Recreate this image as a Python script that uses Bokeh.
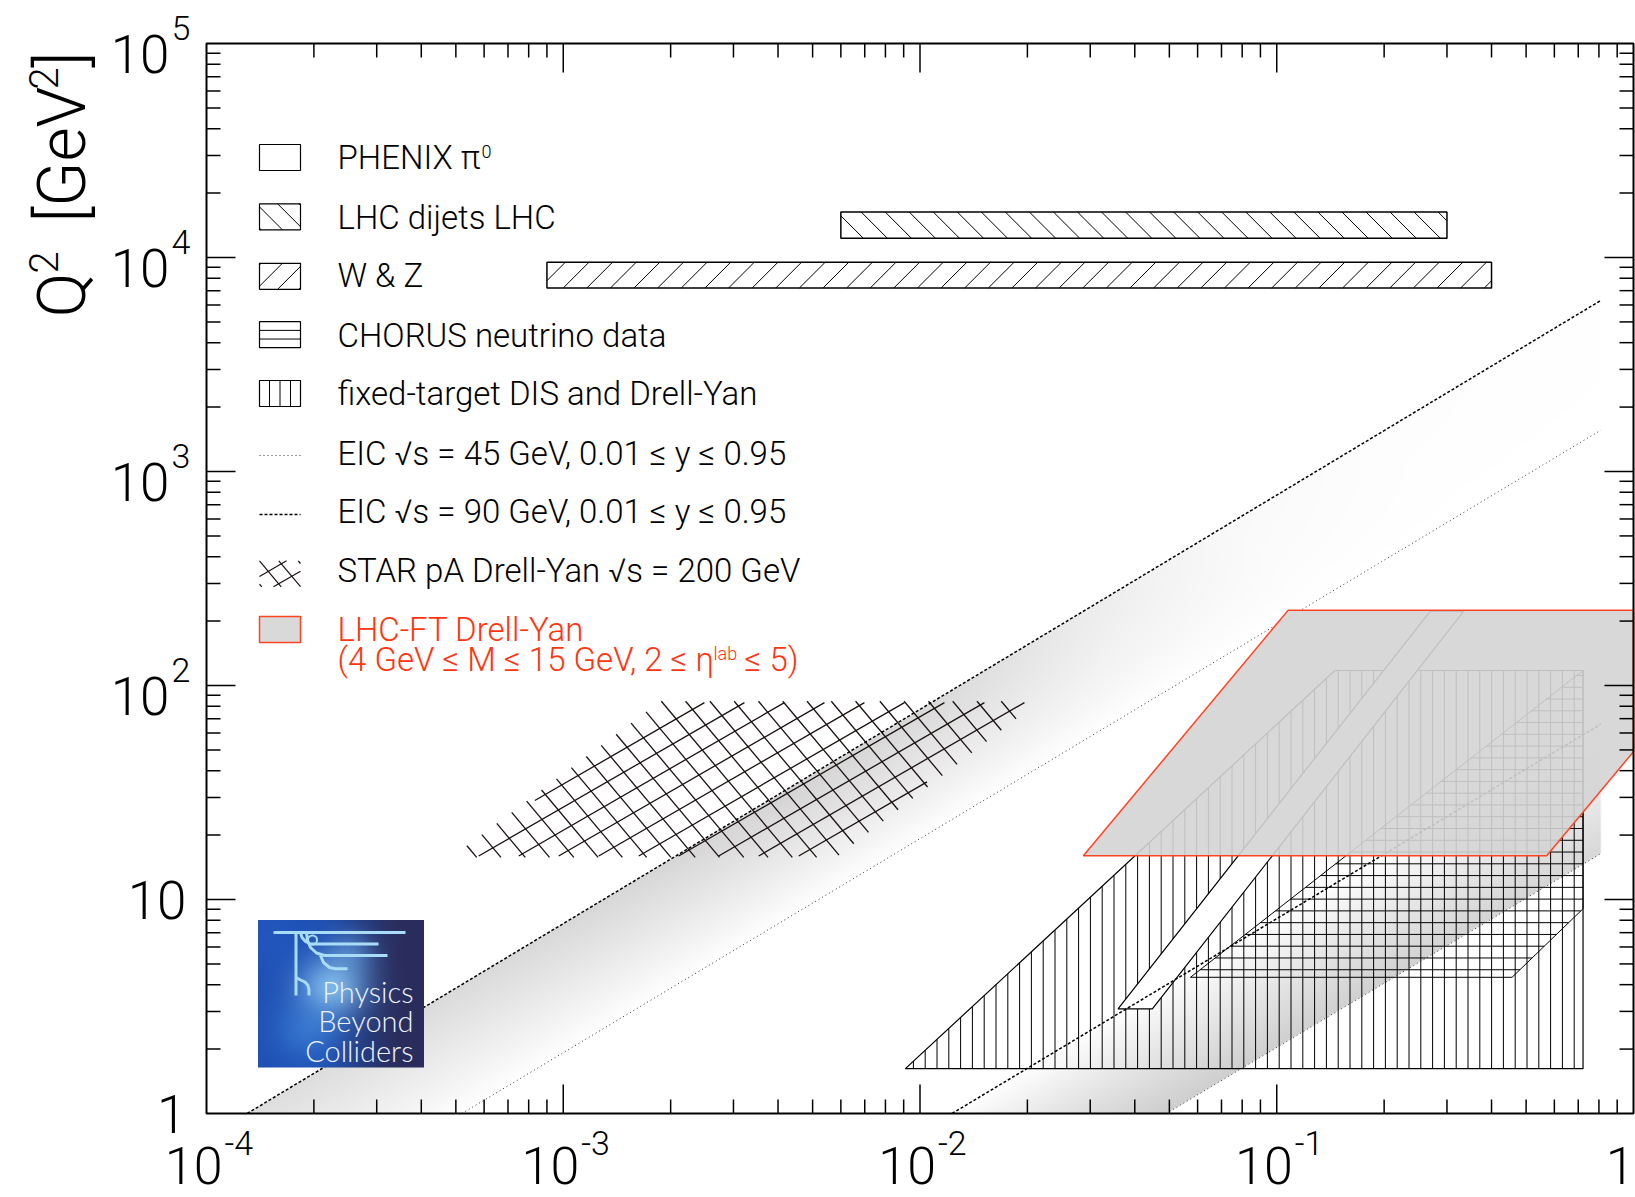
import numpy as np
from bokeh.plotting import figure
from bokeh.models import Label, Range1d, LinearColorMapper
from bokeh.embed import file_html
from bokeh.resources import INLINE

# ---------------------------------------------------------------- data
x_major = [1e-4, 1e-3, 1e-2, 1e-1, 1.0]
x_major_base = ["10", "10", "10", "10", "1"]
x_major_exp = ["-4", "-3", "-2", "-1", ""]
y_major = [1.0, 10.0, 1e2, 1e3, 1e4, 1e5]
y_major_base = ["1", "10", "10", "10", "10", "10"]
y_major_exp = ["", "", "2", "3", "4", "5"]

# coverage regions in (x, Q^2 [GeV^2])
wz_x = [9.0e-4, 0.40]
wz_q2 = [7.2e3, 9.5e3]
dijet_x = [6.0e-3, 0.30]
dijet_q2 = [1.23e4, 1.63e4]
fixed_x = [9.1e-3, 0.1455, 0.722, 0.722]
fixed_q2 = [1.62, 117.5, 117.5, 1.62]
chorus_x = [0.0573, 0.4567, 0.722, 0.722]
chorus_q2 = [4.33, 4.33, 9.05, 117.5]
phenix_x = [0.0359, 0.0448, 0.334, 0.269]
phenix_q2 = [3.08, 3.08, 222.0, 222.0]
star_x = [5.3e-4, 5.7e-3, 1.98e-2, 1.91e-3]
star_q2 = [16.4, 16.4, 81.0, 81.0]
lhcft_x = [0.0287, 0.571, 2.14, 0.1077]
lhcft_q2 = [16.0, 16.0, 225.0, 225.0]

# EIC kinematic limits (upper: y = 0.95, lower: y = 0.01)
eic45_hi_x = [5.2e-4, 0.81]
eic45_hi_q2 = [1.0, 1560.0]
eic45_lo_x = [0.049, 0.81]
eic45_lo_q2 = [1.0, 16.4]
eic90_hi_x = [1.3e-4, 0.81]
eic90_hi_q2 = [1.0, 6300.0]
eic90_lo_x = [0.0123, 0.81]
eic90_lo_q2 = [1.0, 66.0]

legend_labels = [
    "PHENIX π", "LHC dijets LHC", "W & Z", "CHORUS neutrino data",
    "fixed-target DIS and Drell-Yan", "EIC √s = 45 GeV, 0.01 ≤ y ≤ 0.95",
    "EIC √s = 90 GeV, 0.01 ≤ y ≤ 0.95", "STAR pA Drell-Yan √s = 200 GeV",
    "LHC-FT Drell-Yan",
]
lhcft_label_2 = ["(4 GeV ≤ M ≤ 15 GeV, 2 ≤ η", "lab", "≤ 5)"]
logo_words = ["Physics", "Beyond", "Colliders"]

# ---------------------------------------------------------------- layout
W, H = 1635, 1197
FX0, FY0, FW, FH = 206, 43, 1427, 1070      # plot box inside the canvas
FX1, FY1 = FX0 + FW, FY0 + FH
FONT = "Roboto Light"
LOGO_FONT = "Lato Light"
RED = "#ff3510"
BASE_SHIFT = 0.36                            # caps centre above the baseline, in em


def px_x(X):
    return 10.0 ** (-4 + 4.0 * (X - FX0) / FW)


def px_y(Y):
    return 10.0 ** (5 - 5.0 * (Y - FY0) / FH)


# the canvas is one big frame; the log box 1e-4..1 x 1..1e5 sits inside it
p = figure(width=W, height=H, x_axis_type="log", y_axis_type="log",
           x_range=Range1d(px_x(0), px_x(W)), y_range=Range1d(px_y(H), px_y(0)),
           x_axis_location=None, y_axis_location=None,
           output_backend="svg", toolbar_location=None,
           min_border_left=0, min_border_right=0, min_border_top=0, min_border_bottom=0)
p.xgrid.visible = False
p.ygrid.visible = False
p.background_fill_color = "white"
p.border_fill_color = "white"
p.outline_line_color = None


def to_px(xs, ys):
    return [(FX0 + (np.log10(x) + 4) * FW / 4, FY0 + (5 - np.log10(y)) * FH / 5)
            for x, y in zip(xs, ys)]


def rect(xs, ys):
    return [xs[0], xs[1], xs[1], xs[0]], [ys[0], ys[0], ys[1], ys[1]]


def clip_poly(pts, x0=FX0, x1=FX1, y0=FY0, y1=FY1):
    def clip(pts, inside, inter):
        out = []
        for i in range(len(pts)):
            cur, prev = pts[i], pts[i - 1]
            if inside(cur):
                if not inside(prev):
                    out.append(inter(prev, cur))
                out.append(cur)
            elif inside(prev):
                out.append(inter(prev, cur))
        return out

    def ix(xc):
        return lambda a, b: (xc, a[1] + (b[1] - a[1]) * (xc - a[0]) / (b[0] - a[0]))

    def iy(yc):
        return lambda a, b: (a[0] + (b[0] - a[0]) * (yc - a[1]) / (b[1] - a[1]), yc)

    pts = clip(list(pts), lambda q: q[0] >= x0, ix(x0))
    pts = clip(pts, lambda q: q[0] <= x1, ix(x1))
    pts = clip(pts, lambda q: q[1] >= y0, iy(y0))
    pts = clip(pts, lambda q: q[1] <= y1, iy(y1))
    return pts


def hatch_segments(poly, angle, spacing, phase=0.0, ext=0.0):
    th = np.radians(angle)
    d = np.array([np.cos(th), -np.sin(th)])
    n = np.array([np.sin(th), np.cos(th)])
    P = np.asarray(poly, float)
    proj = P @ n
    k0 = int(np.ceil((proj.min() - phase) / spacing))
    k1 = int(np.floor((proj.max() - phase) / spacing))
    segs = []
    for k in range(k0, k1 + 1):
        c = phase + k * spacing
        pts = []
        for i in range(len(P)):
            a, b = P[i], P[(i + 1) % len(P)]
            fa, fb = a @ n - c, b @ n - c
            if fa == fb:
                continue
            if (fa <= 0 <= fb) or (fb <= 0 <= fa):
                pts.append(a + (b - a) * fa / (fa - fb))
        if len(pts) < 2:
            continue
        pts = np.array(pts)
        s = pts @ d
        p0 = pts[s.argmin()] - ext * d
        p1 = pts[s.argmax()] + ext * d
        if np.hypot(*(p1 - p0)) > 0.5:
            segs.append((p0, p1))
    return segs


def draw_hatch(poly, angle, spacing, phase=0.0, ext=0.0, color="black", width=1.0):
    segs = hatch_segments(poly, angle, spacing, phase, ext)
    if not segs:
        return
    p.multi_line([[px_x(a[0]), px_x(b[0])] for a, b in segs],
                 [[px_y(a[1]), px_y(b[1])] for a, b in segs],
                 line_color=color, line_width=width)


def patch_px(pts, **kw):
    p.patch([px_x(a) for a, _ in pts], [px_y(b) for _, b in pts], **kw)


def line_px(pts, **kw):
    p.line([px_x(a) for a, _ in pts], [px_y(b) for _, b in pts], **kw)


def txt(X, Y, s, size, color="black", align="left", vertical=False, font=FONT):
    # (X, Y): start of the text baseline in canvas pixels
    if vertical:
        X, ang = X - BASE_SHIFT * size, np.pi / 2
    else:
        Y, ang = Y - BASE_SHIFT * size, 0.0
    p.add_layout(Label(x=px_x(X), y=px_y(Y), x_units="data", y_units="data",
                       text=s, text_font=font, text_font_size=f"{size}px",
                       text_color=color, text_align=align,
                       text_baseline="alphabetic", angle=ang))


# ---------------------------------------------------------------- shaded EIC bands
ppd_x, ppd_y = FW / 4.0, FH / 5.0
cols = np.arange(FW) + 0.5
rows = np.arange(FH) + 0.5
LXg, LYg = np.meshgrid(-4 + cols / ppd_x, rows / ppd_y)
Xg = FX0 + cols[None, :]


def ly_on(xs, ys, lx):
    a, b = np.log10(xs), np.log10(ys)
    return b[0] + (lx - a[0]) * (b[1] - b[0]) / (a[1] - a[0])


def edge_cov(dly):
    c = np.cos(np.arctan(ppd_y / ppd_x))
    return np.clip(dly * ppd_y * c + 0.5, 0, 1)


s_along = (LXg + LYg) / 2
x_end = FX0 + (np.log10(eic90_hi_x[1]) + 4) * ppd_x
cov_r = np.clip(x_end - Xg + 0.5, 0, 1)

top = ly_on(eic90_hi_x, eic90_hi_q2, LXg)
bot = ly_on(eic45_hi_x, eic45_hi_q2, LXg)
t_up = np.clip((top - LYg) / (top - bot), 0, 1)
d_up = (0.17 * (1 - t_up) ** 0.9
        * np.interp(s_along, [-2, -1, -0.4, 0.0, 0.4, 0.8, 1.2, 1.8],
                    [0.75, 0.9, 1.0, 0.85, 0.45, 0.15, 0.05, 0.02])
        * edge_cov(top - LYg) * edge_cov(LYg - bot) * cov_r)

top2 = ly_on(eic90_lo_x, eic90_lo_q2, LXg)
bot2 = ly_on(eic45_lo_x, eic45_lo_q2, LXg)
t_lo = np.clip((LYg - bot2) / (top2 - bot2), 0, 1)
d_lo = (0.2 * (1 - t_lo) ** 0.9
        * np.interp(s_along, [-1, 0, 0.7], [1.0, 0.9, 0.75])
        * edge_cov(top2 - LYg) * edge_cov(LYg - bot2) * cov_r)

shade = np.clip(np.round(255 * (1 - d_up - d_lo)), 0, 255).astype(np.uint8)
grays = [f"#{v:02x}{v:02x}{v:02x}" for v in range(256)]
p.image(image=[shade], x=1e-4, y=1.0, dw=1.0 - 1e-4, dh=1e5 - 1.0,
        color_mapper=LinearColorMapper(palette=grays, low=-0.5, high=255.5))

# ---------------------------------------------------------------- regions
STAR_HATCH = [(30, 20.0), (130, 18.6)]

fixed_px = clip_poly(to_px(fixed_x, fixed_q2))
draw_hatch(fixed_px, 90, 11.8, phase=4.3)
patch_px(fixed_px, fill_alpha=0, line_color="black", line_width=1.2)

chorus_px = clip_poly(to_px(chorus_x, chorus_q2))
draw_hatch(chorus_px, 0, 11.77, phase=4.1)
patch_px(chorus_px, fill_alpha=0, line_color="black", line_width=1.0)

patch_px(clip_poly(to_px(phenix_x, phenix_q2)), fill_color="white",
         line_color="black", line_width=1.2)

star_px = clip_poly(to_px(star_x, star_q2))
for ang, sp in STAR_HATCH:
    draw_hatch(star_px, ang, sp, ext=5, color="#1a1010", width=1.3)

wz_px = clip_poly(to_px(*rect(wz_x, wz_q2)))
draw_hatch(wz_px, 45, 16.7)
patch_px(wz_px, fill_alpha=0, line_color="black", line_width=1.5)

dijet_px = clip_poly(to_px(*rect(dijet_x, dijet_q2)))
draw_hatch(dijet_px, 135, 17.0)
patch_px(dijet_px, fill_alpha=0, line_color="black", line_width=1.5)

# EIC limits
DOT = dict(line_color="#333333", line_width=1.0, line_dash="1 3")
DASH = dict(line_color="black", line_width=1.5, line_dash="3 2")
p.line(eic45_hi_x, eic45_hi_q2, **DOT)
p.line(eic45_lo_x, eic45_lo_q2, **DOT)
p.line(eic90_hi_x, eic90_hi_q2, **DASH)
p.line(eic90_lo_x, eic90_lo_q2, **DASH)

# LHC fixed-target Drell-Yan
patch_px(clip_poly(to_px(lhcft_x, lhcft_q2)), fill_color="#d4d4d4", fill_alpha=0.9,
         line_color="#ff4422", line_width=1.5)

# ---------------------------------------------------------------- ticks and box
x_minor = [m * 10.0 ** e for e in range(-4, 0) for m in range(2, 10)]
y_minor = [m * 10.0 ** e for e in range(0, 5) for m in range(2, 10)]
TICK = dict(line_color="black", line_width=1.5)
for vals, ln in ((x_major[1:-1], 29), (x_minor, 14)):
    p.segment(x0=vals, y0=[1.0] * len(vals), x1=vals, y1=[px_y(FY1 - ln)] * len(vals), **TICK)
    p.segment(x0=vals, y0=[1e5] * len(vals), x1=vals, y1=[px_y(FY0 + ln)] * len(vals), **TICK)
for vals, ln in ((y_major[1:-1], 29), (y_minor, 14)):
    p.segment(x0=[1e-4] * len(vals), y0=vals, x1=[px_x(FX0 + ln)] * len(vals), y1=vals, **TICK)
    p.segment(x0=[1.0] * len(vals), y0=vals, x1=[px_x(FX1 - ln)] * len(vals), y1=vals, **TICK)
p.patch(*rect([1e-4, 1.0], [1.0, 1e5]), fill_alpha=0, line_color="black", line_width=2)

# ---------------------------------------------------------------- legend
LX0, LX1, TX = 259, 300, 337
LEG_SIZE = 33


def box(yc, h=26):
    return [(LX0, yc - h / 2), (LX1, yc - h / 2), (LX1, yc + h / 2), (LX0, yc + h / 2)]


def centered_phase(pts, angle, spacing):
    th = np.radians(angle)
    n = np.array([np.sin(th), np.cos(th)])
    c = np.mean(np.asarray(pts, float), axis=0) @ n
    return c + spacing / 2


OUT = dict(fill_alpha=0, line_color="black", line_width=1.2)
patch_px(box(157), fill_color="white", line_color="black", line_width=1.2)
b = box(216.3)
draw_hatch(b, 135, 15, phase=centered_phase(b, 135, 15))
patch_px(b, **OUT)
b = box(275.8)
draw_hatch(b, 45, 15, phase=centered_phase(b, 45, 15))
patch_px(b, **OUT)
b = box(334.2)
draw_hatch(b, 0, 8.67, phase=centered_phase(b, 0, 8.67))
patch_px(b, **OUT)
b = box(393)
draw_hatch(b, 90, 10.5, phase=centered_phase(b, 90, 10.5) - 5.25)
patch_px(b, **OUT)
line_px([(LX0, 455), (LX1, 455)], **DOT)
line_px([(LX0, 514), (LX1, 514)], **DASH)
b = box(573.3)
for ang, sp in STAR_HATCH:
    draw_hatch(b, ang, sp * 0.8, phase=centered_phase(b, ang, sp * 0.8), color="#1a1010", width=1.2)
patch_px(box(629), fill_color="#d9d9d9", line_color="#ff4422", line_width=1.5)

baselines = [169, 229, 287, 346.5, 405, 465, 523, 582, 640.5]
for lab, yb in zip(legend_labels, baselines):
    txt(TX, yb, lab, LEG_SIZE, color=RED if lab.startswith("LHC-FT") else "black")
txt(481, 157.5, "0", 18)
txt(TX, 671, lhcft_label_2[0], LEG_SIZE, color=RED)
txt(713, 659, lhcft_label_2[1], 18, color=RED)
txt(744, 671, lhcft_label_2[2], LEG_SIZE, color=RED)

# ---------------------------------------------------------------- logo
LG_X0, LG_X1, LG_Y0, LG_Y1 = 257.5, 423.5, 919.5, 1067.0
lw, lh = int(LG_X1 - LG_X0), int(LG_Y1 - LG_Y0)
uu, vv = np.meshgrid((np.arange(lw) + 0.5) / lw, 1 - (np.arange(lh) + 0.5) / lh)
mix = np.clip((uu - 0.3) / 0.6, 0, 1)
mix = mix * mix * (3 - 2 * mix)
col = (np.array([0x1e, 0x50, 0xb4])[None, None, :] * (1 - mix[..., None])
       + np.array([0x2a, 0x2d, 0x5c])[None, None, :] * mix[..., None])
for cu, cv, r, c, a in [(0.05, 0.1, 0.22, (0x26, 0x5c, 0xc4), 0.5),
                        (0.30, 0.75, 0.20, (0x40, 0x88, 0xdc), 0.6),
                        (0.55, 0.22, 0.14, (0x6a, 0xa8, 0xe8), 0.5),
                        (0.45, 0.45, 0.20, (0x8c, 0xc8, 0xf2), 0.85)]:
    w = a * np.exp(-((uu - cu) ** 2 + (vv - cv) ** 2) / (r * r))
    col = col * (1 - w[..., None]) + np.array(c)[None, None, :] * w[..., None]
rgba = np.empty((lh, lw, 4), dtype=np.uint8)
rgba[..., :3] = np.clip(col, 0, 255).astype(np.uint8)
rgba[..., 3] = 255
p.image_rgba(image=[rgba.view(np.uint32).reshape(lh, lw)],
             x=px_x(LG_X0), y=px_y(LG_Y1),
             dw=px_x(LG_X1) - px_x(LG_X0), dh=px_y(LG_Y0) - px_y(LG_Y1))

LOGO_LINE = dict(line_color="#a9dcf6", line_width=3)
line_px([(273, 932), (405, 932)], **LOGO_LINE)
line_px([(295.5, 932), (295.5, 995)], **LOGO_LINE)
line_px([(295.5, 977), (300, 979.5), (304.5, 981.5), (307.5, 985), (308.5, 989), (308.5, 995)], **LOGO_LINE)
line_px([(300, 932), (301.5, 937), (305, 941), (310, 943.5), (378, 943.5)], **LOGO_LINE)
line_px([(306, 932), (307, 940), (310, 947), (316, 952.5), (324, 955), (387, 955)], **LOGO_LINE)
line_px([(320, 955), (323, 962), (329, 967), (335, 968.3), (347, 968.3)], **LOGO_LINE)
p.scatter([px_x(312)], [px_y(939.5)], marker="circle", size=9, fill_alpha=0,
          line_color="#a9dcf6", line_width=2)
for word, yb in zip(logo_words, [1001, 1030, 1060]):
    txt(413, yb, word, 29, color="#eef3ff", align="right", font=LOGO_FONT)

# ---------------------------------------------------------------- tick labels
for xv, base, ex in zip(x_major, x_major_base, x_major_exp):
    X = FX0 + (np.log10(xv) + 4) * ppd_x
    if ex:
        txt(X + 16, 1184, base, 52, align="right")
        txt(X + 18, 1155, ex, 34)
    else:
        txt(W - 1, 1184, base, 52, align="right")
for yv, base, ex in zip(y_major, y_major_base, y_major_exp):
    Y = FY0 + (5 - np.log10(yv)) * ppd_y
    if ex:
        txt(169, Y + 29.5, base, 53, align="right")
        txt(171, Y - 3.5, ex, 34)
    else:
        txt(186, Y + 19.5, base, 53, align="right")

# axis title Q^2 [GeV^2]
txt(86, 317, "Q", 66, vertical=True)
txt(57, 273, "2", 40, vertical=True)
txt(86, 222, "[GeV", 66, vertical=True)
txt(57, 89, "2", 40, vertical=True)
txt(86, 67, "]", 66, vertical=True)

open("out.html", "w").write(file_html(p, INLINE))
